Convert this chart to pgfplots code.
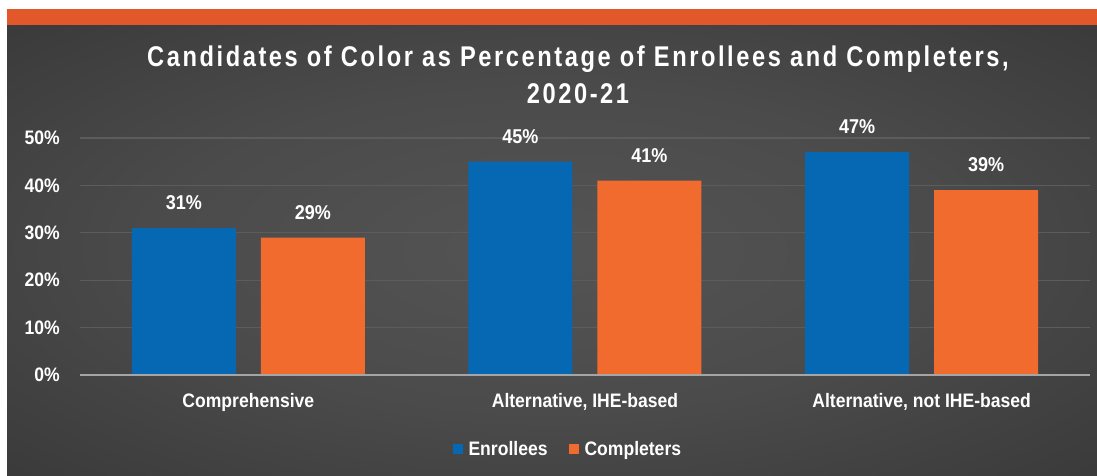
\documentclass[border=0pt]{standalone}
\usepackage{fontspec}
\setmainfont{Liberation Sans}[FakeStretch=0.9]
\newfontfamily\titlefont{Liberation Sans}[FakeStretch=0.83,LetterSpace=9]
\usepackage{pgfplots}
\pgfplotsset{compat=1.18}
\definecolor{bgA}{RGB}{84,84,84}
\definecolor{bgB}{RGB}{38,38,38}
\definecolor{band}{RGB}{226,88,42}
\definecolor{cblue}{RGB}{6,104,178}
\definecolor{corange}{RGB}{242,107,46}
\definecolor{gridc}{RGB}{92,92,92}
\definecolor{axl}{RGB}{165,165,165}
\pgfdeclareradialshading{bgshade}{\pgfpoint{0bp}{0bp}}{color(0bp)=(bgA); color(18bp)=(bgA!80!bgB); color(40bp)=(bgA!35!bgB); color(55bp)=(bgB); color(100bp)=(bgB)}
\begin{document}
\begin{tikzpicture}[x=1pt,y=1pt]
\fill[white] (0,0) rectangle (1097,476);
\shade[shading=bgshade] (7,0) rectangle (1097,451);
\fill[band] (7,451) rectangle (1097,467);
\node[text=white, inner sep=0pt, font=\titlefont\bfseries\fontsize{28.5}{30}\selectfont] at (578,417) {Candidates of Color as Percentage of Enrollees and Completers,};
\node[text=white, inner sep=0pt, font=\titlefont\bfseries\fontsize{28.5}{30}\selectfont] at (578,382) {2020-21};
\begin{axis}[
  at={(80pt,101pt)}, anchor=south west,
  scale only axis, width=1010pt, height=237pt,
  xmin=-0.5, xmax=2.5, ymin=0, ymax=50,
  clip=false,
  ybar, bar width=104pt,
  axis line style={draw=none},
  tick style={draw=none},
  major tick length=0pt,
  ymajorgrids, grid style={gridc, line width=1.2pt},
  xtick={0,1,2},
  xticklabels={Comprehensive,{Alternative, IHE-based},{Alternative, not IHE-based}},
  ytick={0,10,20,30,40,50},
  yticklabels={0\%,10\%,20\%,30\%,40\%,50\%},
  ticklabel style={text=white, inner sep=0pt, font=\bfseries\fontsize{19.5}{22}\selectfont},
  xticklabel style={yshift=-18pt},
  yticklabel style={xshift=-20pt},
  /pgf/number format/assume math mode=true,
  nodes near coords={\pgfmathprintnumber{\pgfplotspointmeta}\%},
  nodes near coords style={text=white, inner sep=0pt, yshift=18pt, font=\bfseries\fontsize{20}{22}\selectfont},
  legend columns=2,
  legend style={at={(0.483,-0.312)}, anchor=center, draw=none, fill=none, text=white,
    font=\bfseries\fontsize{19.5}{22}\selectfont, inner sep=0pt,
    /tikz/every odd column/.append style={column sep=4pt},
    /tikz/every even column/.append style={column sep=19pt}},
  legend image code/.code={\fill[#1] (0pt,-5pt) rectangle (10pt,5pt);},
]
\addplot[fill=cblue, draw=none, bar shift=-64.5pt] coordinates {(0,31) (1,45) (2,47)};
\addlegendentry{Enrollees}
\addplot[fill=corange, draw=none, bar shift=64.5pt] coordinates {(0,29) (1,41) (2,39)};
\addlegendentry{Completers}
\draw[axl, line width=1.8pt] (axis cs:-0.5,0) -- (axis cs:2.5,0);
\end{axis}
\end{tikzpicture}
\end{document}
